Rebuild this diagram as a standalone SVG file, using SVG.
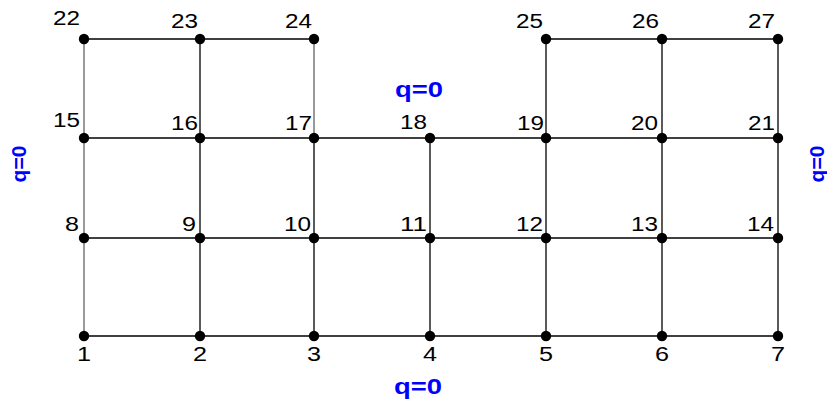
<svg xmlns="http://www.w3.org/2000/svg" width="827" height="401" viewBox="0 0 827 401">
<style>
.e{stroke:#000;stroke-width:1.3;fill:none}
.g{stroke:#808080;stroke-width:1.6;fill:none}
.n{fill:#000}
.l{font-family:"Liberation Sans",Arial,sans-serif;font-size:20px;fill:#000;text-anchor:end}
.b{font-family:"Liberation Sans",Arial,sans-serif;font-size:20px;fill:#000;text-anchor:middle}
.q{font-family:"Liberation Sans",Arial,sans-serif;font-size:22px;font-weight:bold;fill:#0000ff}
.qr{font-family:"Liberation Sans",Arial,sans-serif;font-size:21px;font-weight:bold;fill:#0000ff;text-anchor:middle}
</style>
<rect width="827" height="401" fill="#fff"/>
<g id="connectors">
<line class="e" x1="84" y1="39" x2="314" y2="39"/>
<line class="e" x1="546" y1="39" x2="778" y2="39"/>
<line class="e" x1="84" y1="138" x2="778" y2="138"/>
<line class="e" x1="84" y1="238" x2="778" y2="238"/>
<line class="e" x1="84" y1="336" x2="778" y2="336"/>
<line class="g" x1="84" y1="39" x2="84" y2="336"/>
<line class="e" x1="200" y1="39" x2="200" y2="336"/>
<line class="g" x1="314" y1="39" x2="314" y2="138"/>
<line class="e" x1="314" y1="138" x2="314" y2="336"/>
<line class="e" x1="430" y1="138" x2="430" y2="336"/>
<line class="e" x1="546" y1="39" x2="546" y2="336"/>
<line class="e" x1="662" y1="39" x2="662" y2="336"/>
<line class="e" x1="778" y1="39" x2="778" y2="336"/>
</g>
<g id="n1"><circle class="n" cx="84" cy="336" r="5.2"/><text class="b" x="84" y="361" textLength="14" lengthAdjust="spacingAndGlyphs">1</text></g>
<g id="n2"><circle class="n" cx="200" cy="336" r="5.2"/><text class="b" x="200" y="361" textLength="14" lengthAdjust="spacingAndGlyphs">2</text></g>
<g id="n3"><circle class="n" cx="314" cy="336" r="5.2"/><text class="b" x="314" y="361" textLength="14" lengthAdjust="spacingAndGlyphs">3</text></g>
<g id="n4"><circle class="n" cx="430" cy="336" r="5.2"/><text class="b" x="430" y="361" textLength="14" lengthAdjust="spacingAndGlyphs">4</text></g>
<g id="n5"><circle class="n" cx="546" cy="336" r="5.2"/><text class="b" x="546" y="361" textLength="14" lengthAdjust="spacingAndGlyphs">5</text></g>
<g id="n6"><circle class="n" cx="662" cy="336" r="5.2"/><text class="b" x="662" y="361" textLength="14" lengthAdjust="spacingAndGlyphs">6</text></g>
<g id="n7"><circle class="n" cx="778" cy="336" r="5.2"/><text class="b" x="778" y="361" textLength="14" lengthAdjust="spacingAndGlyphs">7</text></g>
<g id="n8"><circle class="n" cx="84" cy="238" r="5.2"/><text class="l" x="79" y="231" textLength="14" lengthAdjust="spacingAndGlyphs">8</text></g>
<g id="n9"><circle class="n" cx="200" cy="238" r="5.2"/><text class="l" x="196" y="231" textLength="14" lengthAdjust="spacingAndGlyphs">9</text></g>
<g id="n10"><circle class="n" cx="314" cy="238" r="5.2"/><text class="l" x="311" y="231" textLength="27" lengthAdjust="spacingAndGlyphs">10</text></g>
<g id="n11"><circle class="n" cx="430" cy="238" r="5.2"/><text class="l" x="427" y="231" textLength="27" lengthAdjust="spacingAndGlyphs">11</text></g>
<g id="n12"><circle class="n" cx="546" cy="238" r="5.2"/><text class="l" x="543" y="231" textLength="27" lengthAdjust="spacingAndGlyphs">12</text></g>
<g id="n13"><circle class="n" cx="662" cy="238" r="5.2"/><text class="l" x="658" y="231" textLength="27" lengthAdjust="spacingAndGlyphs">13</text></g>
<g id="n14"><circle class="n" cx="778" cy="238" r="5.2"/><text class="l" x="774" y="231" textLength="27" lengthAdjust="spacingAndGlyphs">14</text></g>
<g id="n15"><circle class="n" cx="84" cy="138" r="5.2"/><text class="l" x="80" y="127" textLength="27" lengthAdjust="spacingAndGlyphs">15</text></g>
<g id="n16"><circle class="n" cx="200" cy="138" r="5.2"/><text class="l" x="198" y="130" textLength="27" lengthAdjust="spacingAndGlyphs">16</text></g>
<g id="n17"><circle class="n" cx="314" cy="138" r="5.2"/><text class="l" x="312" y="130" textLength="27" lengthAdjust="spacingAndGlyphs">17</text></g>
<g id="n18"><circle class="n" cx="430" cy="138" r="5.2"/><text class="l" x="427" y="129" textLength="27" lengthAdjust="spacingAndGlyphs">18</text></g>
<g id="n19"><circle class="n" cx="546" cy="138" r="5.2"/><text class="l" x="544" y="130" textLength="27" lengthAdjust="spacingAndGlyphs">19</text></g>
<g id="n20"><circle class="n" cx="662" cy="138" r="5.2"/><text class="l" x="658" y="130" textLength="27" lengthAdjust="spacingAndGlyphs">20</text></g>
<g id="n21"><circle class="n" cx="778" cy="138" r="5.2"/><text class="l" x="775" y="130" textLength="27" lengthAdjust="spacingAndGlyphs">21</text></g>
<g id="n22"><circle class="n" cx="84" cy="39" r="5.2"/><text class="l" x="80" y="25" textLength="27" lengthAdjust="spacingAndGlyphs">22</text></g>
<g id="n23"><circle class="n" cx="200" cy="39" r="5.2"/><text class="l" x="198" y="28" textLength="27" lengthAdjust="spacingAndGlyphs">23</text></g>
<g id="n24"><circle class="n" cx="314" cy="39" r="5.2"/><text class="l" x="312" y="28" textLength="27" lengthAdjust="spacingAndGlyphs">24</text></g>
<g id="n25"><circle class="n" cx="546" cy="39" r="5.2"/><text class="l" x="543" y="28" textLength="27" lengthAdjust="spacingAndGlyphs">25</text></g>
<g id="n26"><circle class="n" cx="662" cy="39" r="5.2"/><text class="l" x="659" y="28" textLength="27" lengthAdjust="spacingAndGlyphs">26</text></g>
<g id="n27"><circle class="n" cx="778" cy="39" r="5.2"/><text class="l" x="775" y="28" textLength="27" lengthAdjust="spacingAndGlyphs">27</text></g>
<g id="bc">
<text class="q" x="395" y="97" textLength="48" lengthAdjust="spacingAndGlyphs">q=0</text>
<text class="q" x="394" y="393.5" textLength="48" lengthAdjust="spacingAndGlyphs">q=0</text>
<text class="qr" transform="translate(26,164) rotate(-90)">q=0</text>
<text class="qr" transform="translate(824,164) rotate(-90)">q=0</text>
</g>
</svg>
